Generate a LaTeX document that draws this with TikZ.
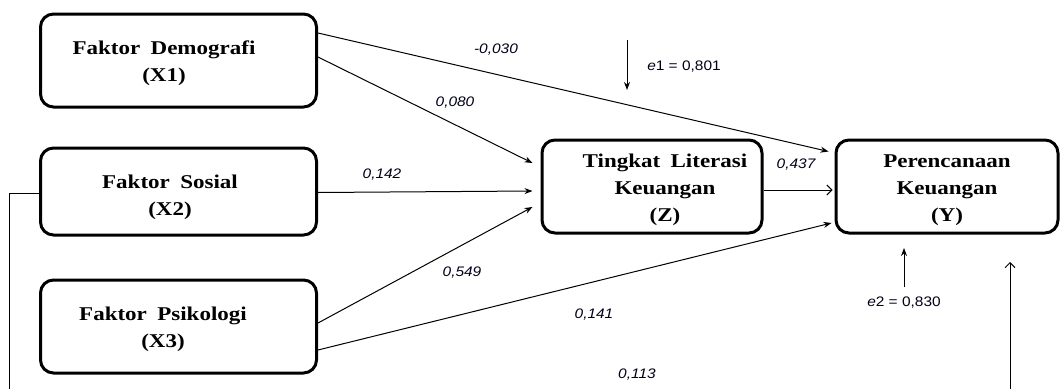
\documentclass[tikz,border=0pt]{standalone}
\usepackage{fontspec}
\usetikzlibrary{arrows.meta}
\newfontfamily\boxfont{Liberation Serif}[FakeStretch=1.18,WordSpace=1.8]
\newfontfamily\labfont{Liberation Sans}[FakeStretch=1.12]
\begin{document}
\begin{tikzpicture}[x=1pt,y=-1pt,
  box/.style={draw,line width=3pt,rounded corners=13pt,inner sep=0pt},
  btext/.style={font=\boxfont\bfseries\fontsize{19.5}{27}\selectfont,align=center,inner sep=0pt},
  lab/.style={font=\labfont\fontsize{13.8}{15}\selectfont,text=black!90!blue,inner sep=0pt},
  con/.style={line width=1pt,-{Stealth[length=8pt,width=6pt]}},
  opencon/.style={line width=1pt,-{Straight Barb[length=5pt,width=10pt]}}]
\useasboundingbox (0,0) rectangle (1064,388);
\begin{scope}
\clip (0,0) rectangle (1064,388);
% boxes
\node[box,minimum width=276pt,minimum height=93pt] (X1) at (178.5,60.5) {};
\node[box,minimum width=276pt,minimum height=87pt] (X2) at (178.5,191.5) {};
\node[box,minimum width=276pt,minimum height=93pt] (X3) at (178.5,326.5) {};
\node[box,minimum width=220pt,minimum height=93pt] (Z) at (652,186.5) {};
\node[box,minimum width=222pt,minimum height=93pt] (Y) at (947,186.5) {};
% texts
\node[btext] (tX1) at (164,63) {Faktor Demografi\\(X1)};
\node[btext] (tX2) at (170,197) {Faktor Sosial\\(X2)};
\node[btext] (tX3) at (163,329) {Faktor Psikologi\\(X3)};
\node[btext] (tZ) at (665,190) {Tingkat Literasi\\Keuangan\\(Z)};
\node[btext] (tY) at (947,190) {Perencanaan\\Keuangan\\(Y)};
% connectors
\draw[con] ([yshift=27.5pt]X1.east) -- ([xshift=-6pt,yshift=35pt]Y.west);
\draw[con] ([yshift=3.5pt]X1.east) -- ([xshift=-8pt,yshift=23.5pt]Z.west);
\draw[con] ([yshift=-1pt]X2.east) -- ([xshift=-8pt,yshift=-4.5pt]Z.west);
\draw[con] ([yshift=3.5pt]X3.east) -- ([xshift=-8pt,yshift=-20.5pt]Z.west);
\draw[con] ([yshift=-23.5pt]X3.east) -- ([xshift=-3pt,yshift=-36.5pt]Y.west);
\draw[opencon] ([yshift=-3.5pt]Z.east) -- ([xshift=-2pt,yshift=-3.5pt]Y.west);
\coordinate (e1s) at (627,40);
\coordinate (e1e) at (627,90);
\draw[con] (e1s) -- (e1e);
\coordinate (e2s) at (904,287);
\coordinate (e2e) at (904,248);
\draw[con] (e2s) -- (e2e);
\coordinate (lb1) at (9,193);
\coordinate (lb2) at (9,400);
\coordinate (lb3) at (1010,400);
\coordinate (lb4) at (1010,262);
\draw[opencon] ([yshift=-1.5pt]X2.west) -- (lb1) -- (lb2) -- (lb3) -- (lb4);
\end{scope}
% labels
\node[lab] (l1) at (496,50) {\itshape -0,030};
\node[lab] (l2) at (455,103) {\itshape 0,080};
\node[lab] (l3) at (382,175) {\itshape 0,142};
\node[lab] (l4) at (462,273) {\itshape 0,549};
\node[lab] (l5) at (594,315) {\itshape 0,141};
\node[lab] (l6) at (796,165) {\itshape 0,437};
\node[lab] (l7) at (684,67) {\textit{e}1 = 0,801};
\node[lab] (l8) at (904,303) {\textit{e}2 = 0,830};
\node[lab] (l9) at (637,375) {\itshape 0,113};
\end{tikzpicture}
\end{document}
